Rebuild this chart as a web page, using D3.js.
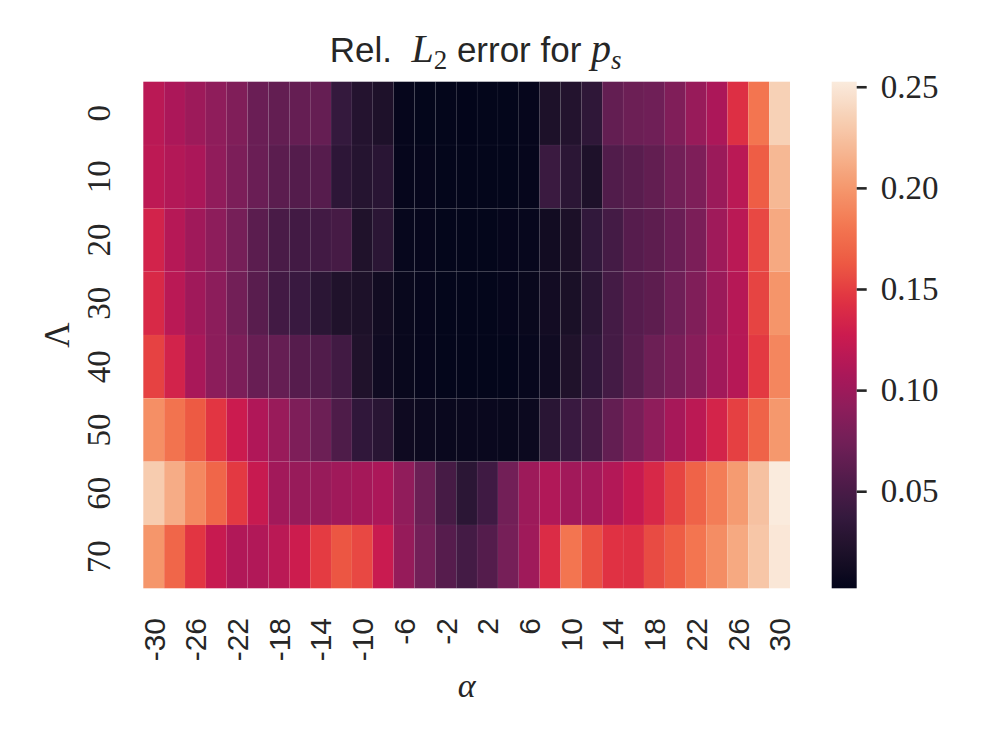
<!DOCTYPE html>
<html>
<head>
<meta charset="utf-8">
<script src="https://cdn.jsdelivr.net/npm/d3@7"></script>
<style>
  html, body { margin: 0; padding: 0; background: #ffffff; }
  svg { display: block; }
</style>
</head>
<body>
<svg id="chart" width="996" height="747"></svg>
<script>
// ---- data ----
const alphas = [-30, -28, -26, -24, -22, -20, -18, -16, -14, -12, -10, -8, -6, -4, -2, 0,
                2, 4, 6, 8, 10, 12, 14, 16, 18, 20, 22, 24, 26, 28, 30];
const lambdas = [0, 10, 20, 30, 40, 50, 60, 70];
const xTickLabels = ["-30", "-26", "-22", "-18", "-14", "-10", "-6", "-2", "2", "6", "10", "14", "18", "22", "26", "30"];
const colorbarTicks = [0.05, 0.10, 0.15, 0.20, 0.25];

const errLambda0  = [0.117, 0.109, 0.100, 0.092, 0.083, 0.070, 0.066, 0.067, 0.067, 0.037, 0.025, 0.021, 0.004, 0.003, 0.003, 0.002, 0.003, 0.003, 0.004, 0.020, 0.024, 0.033, 0.066, 0.071, 0.073, 0.083, 0.097, 0.109, 0.142, 0.180, 0.235];
const errLambda10 = [0.119, 0.113, 0.108, 0.093, 0.081, 0.070, 0.061, 0.057, 0.058, 0.032, 0.026, 0.029, 0.004, 0.004, 0.003, 0.003, 0.003, 0.003, 0.004, 0.041, 0.030, 0.021, 0.055, 0.060, 0.065, 0.075, 0.082, 0.099, 0.117, 0.165, 0.219];
const errLambda20 = [0.133, 0.115, 0.102, 0.091, 0.077, 0.061, 0.050, 0.046, 0.046, 0.048, 0.022, 0.030, 0.005, 0.004, 0.003, 0.003, 0.003, 0.004, 0.005, 0.012, 0.019, 0.035, 0.047, 0.058, 0.062, 0.070, 0.080, 0.101, 0.117, 0.155, 0.210];
const errLambda30 = [0.138, 0.117, 0.102, 0.090, 0.075, 0.060, 0.046, 0.040, 0.030, 0.022, 0.020, 0.012, 0.006, 0.004, 0.003, 0.003, 0.003, 0.004, 0.006, 0.013, 0.018, 0.030, 0.047, 0.058, 0.062, 0.073, 0.083, 0.099, 0.115, 0.153, 0.198];
const errLambda40 = [0.152, 0.133, 0.107, 0.090, 0.081, 0.069, 0.067, 0.058, 0.055, 0.045, 0.022, 0.011, 0.006, 0.004, 0.003, 0.003, 0.003, 0.003, 0.005, 0.011, 0.022, 0.034, 0.047, 0.060, 0.071, 0.079, 0.088, 0.103, 0.115, 0.148, 0.190];
const errLambda50 = [0.195, 0.179, 0.163, 0.146, 0.127, 0.111, 0.098, 0.082, 0.071, 0.053, 0.034, 0.029, 0.010, 0.008, 0.007, 0.007, 0.007, 0.006, 0.008, 0.029, 0.040, 0.049, 0.066, 0.079, 0.092, 0.106, 0.118, 0.134, 0.151, 0.169, 0.200];
const errLambda60 = [0.232, 0.212, 0.191, 0.171, 0.148, 0.125, 0.103, 0.097, 0.097, 0.102, 0.105, 0.109, 0.093, 0.071, 0.048, 0.030, 0.044, 0.075, 0.100, 0.112, 0.103, 0.104, 0.113, 0.125, 0.137, 0.153, 0.169, 0.185, 0.202, 0.225, 0.2525];
const errLambda70 = [0.199, 0.171, 0.146, 0.125, 0.112, 0.112, 0.117, 0.128, 0.149, 0.161, 0.155, 0.126, 0.096, 0.076, 0.058, 0.047, 0.057, 0.077, 0.101, 0.140, 0.180, 0.159, 0.144, 0.143, 0.156, 0.165, 0.180, 0.194, 0.210, 0.228, 0.250];
const errorRows = [errLambda0, errLambda10, errLambda20, errLambda30, errLambda40, errLambda50, errLambda60, errLambda70];

// rocket colormap anchors
const rocketColors = ["#03051a", "#1d1129", "#35193e", "#521c4b", "#701f57", "#8e1d5b", "#ad1759",
                      "#cb1b4f", "#e13342", "#ed5a43", "#f37651", "#f5966b", "#f6b48f", "#f7d0b5", "#faebdd"];

// ---- layout ----
const svg = d3.select("#chart");
const plotLeft = 143.3, plotRight = 790, plotTop = 81.7, plotBottom = 588.3;
const cbLeft = 831.7, cbRight = 856.7;
const textColor = "#262626";
const serif = "'Liberation Serif', 'DejaVu Serif', serif";
const sans = "'Liberation Sans', 'DejaVu Sans', sans-serif";

const cells = [];
lambdas.forEach((lam, i) => alphas.forEach((a, j) => cells.push({lam, a, v: errorRows[i][j]})));
const vmin = d3.min(cells, d => d.v), vmax = d3.max(cells, d => d.v);

const rocket = d3.piecewise(d3.interpolateRgb, rocketColors);
const color = d3.scaleSequential(rocket).domain([vmin, vmax]);

const x = d3.scaleBand().domain(alphas).range([plotLeft, plotRight]).padding(0);
const y = d3.scaleBand().domain(lambdas).range([plotTop, plotBottom]).padding(0);

// cells
svg.append("g").selectAll("rect").data(cells).join("rect")
  .attr("x", d => x(d.a))
  .attr("y", d => y(d.lam))
  .attr("width", x.bandwidth())
  .attr("height", y.bandwidth())
  .attr("fill", d => color(d.v))
  .attr("stroke", "rgba(255,255,255,0.045)")
  .attr("stroke-width", 0.6);

// x tick labels
const xLabelVals = xTickLabels.map(Number);
svg.append("g").selectAll("text").data(xLabelVals).join("text")
  .attr("transform", d => `translate(${x(d) + x.bandwidth() / 2},618) rotate(-90)`)
  .attr("text-anchor", "end")
  .attr("dy", "0.36em")
  .attr("font-family", sans)
  .attr("font-size", 30)
  .attr("fill", textColor)
  .text((d, i) => xTickLabels[i]);

// y tick labels
svg.append("g").selectAll("text").data(lambdas).join("text")
  .attr("transform", d => `translate(110,${y(d) + y.bandwidth() / 2}) rotate(-90)`)
  .attr("text-anchor", "middle")
  .attr("font-family", serif)
  .attr("font-size", 33)
  .attr("fill", textColor)
  .text(d => String(d));

// axis labels
svg.append("text")
  .attr("x", (plotLeft + plotRight) / 2)
  .attr("y", 697)
  .attr("text-anchor", "middle")
  .attr("font-family", serif)
  .attr("font-style", "italic")
  .attr("font-size", 34)
  .attr("fill", textColor)
  .text("α");

svg.append("text")
  .attr("transform", `translate(69,${(plotTop + plotBottom) / 2}) rotate(-90)`)
  .attr("text-anchor", "middle")
  .attr("font-family", serif)
  .attr("font-size", 35)
  .attr("fill", textColor)
  .text("Λ");

// title
const title = svg.append("text")
  .attr("x", (plotLeft + plotRight) / 2 + 9)
  .attr("y", 62)
  .attr("text-anchor", "middle")
  .attr("font-size", 35)
  .attr("fill", textColor);
title.append("tspan").attr("font-family", sans).text("Rel.\u00a0\u00a0");
title.append("tspan").attr("font-family", serif).attr("font-style", "italic").attr("font-size", 40).text("L");
title.append("tspan").attr("font-family", serif).attr("font-size", 27).attr("dy", 7).text("2");
title.append("tspan").attr("font-family", sans).attr("dy", -7).text("\u00a0error for\u00a0");
title.append("tspan").attr("font-family", serif).attr("font-style", "italic").attr("font-size", 40).text("p");
title.append("tspan").attr("font-family", serif).attr("font-style", "italic").attr("font-size", 27).attr("dy", 7).text("s");

// colorbar
const cbScale = d3.scaleLinear().domain([vmin, vmax]).range([plotBottom, plotTop]);
const defs = svg.append("defs");
const grad = defs.append("linearGradient").attr("id", "cbgrad")
  .attr("x1", 0).attr("y1", 1).attr("x2", 0).attr("y2", 0);
d3.range(0, 1.0001, 0.02).forEach(t => {
  grad.append("stop").attr("offset", t).attr("stop-color", color(vmin + t * (vmax - vmin)));
});
svg.append("rect")
  .attr("x", cbLeft).attr("y", plotTop)
  .attr("width", cbRight - cbLeft).attr("height", plotBottom - plotTop)
  .attr("fill", "url(#cbgrad)");

const cbAxis = d3.axisRight(cbScale).tickValues(colorbarTicks).tickSize(10).tickPadding(14)
  .tickFormat(d3.format(".2f"));
const cbG = svg.append("g").attr("transform", `translate(${cbRight},0)`).call(cbAxis);
cbG.select(".domain").remove();
cbG.selectAll(".tick line").attr("stroke", textColor).attr("stroke-width", 2.6);
cbG.selectAll(".tick text")
  .attr("font-family", serif)
  .attr("font-size", 33)
  .attr("fill", textColor);
</script>
</body>
</html>
